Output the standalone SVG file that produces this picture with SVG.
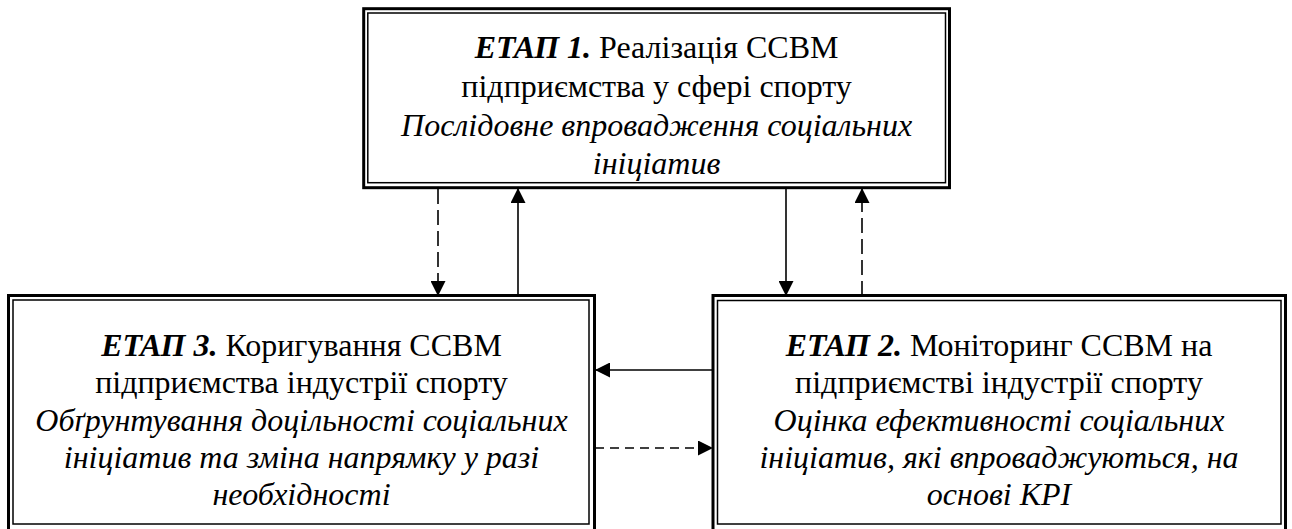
<svg xmlns="http://www.w3.org/2000/svg" width="1292" height="529" viewBox="0 0 1292 529">
  <defs>
    <marker id="arrow" viewBox="0 0 15 15" markerWidth="15" markerHeight="15" refX="15" refY="7.5" orient="auto" markerUnits="userSpaceOnUse">
      <path d="M0,0 L15,7.5 L0,15 z" fill="#000"/>
    </marker>
    <style>
      .outer { fill: none; stroke: #000; stroke-width: 3; }
      .inner { fill: none; stroke: #000; stroke-width: 1.5; }
      .txt { font-family: 'Liberation Serif', 'DejaVu Serif', serif; font-size: 32px; fill: #000; text-anchor: middle; }
      .it { font-style: italic; }
      .bi { font-style: italic; font-weight: bold; }
      .link { fill: none; stroke: #000; stroke-width: 1.6; marker-end: url(#arrow); }
      .dv { stroke-dasharray: 15 6; }
      .dh { stroke-dasharray: 9 6; }
    </style>
  </defs>
  <rect width="1292" height="529" fill="#fff"/>

  <!-- Stage 1: implementation -->
  <g id="stage1">
    <rect class="outer" x="363.7" y="8.7" width="585.8" height="179"/>
    <rect class="inner" x="367.8" y="13" width="577.7" height="169.7"/>
    <text class="txt" x="656.6" y="57.5"><tspan class="bi">ЕТАП 1.</tspan> Реалізація ССВМ</text>
    <text class="txt" x="656.6" y="96.5">підприємства у сфері спорту</text>
    <text class="txt it" x="656.6" y="135.5">Послідовне впровадження соціальних</text>
    <text class="txt it" x="656.6" y="174">ініціатив</text>
  </g>

  <!-- Stage 3: correction -->
  <g id="stage3">
    <rect class="outer" x="8.5" y="295.5" width="586" height="235"/>
    <rect class="inner" x="13" y="300" width="576" height="224"/>
    <text class="txt" x="301.5" y="355.5"><tspan class="bi">ЕТАП 3.</tspan> Коригування ССВМ</text>
    <text class="txt" x="301.5" y="393">підприємства індустрії спорту</text>
    <text class="txt it" x="301.5" y="430.5">Обґрунтування доцільності соціальних</text>
    <text class="txt it" x="301.5" y="468">ініціатив та зміна напрямку у разі</text>
    <text class="txt it" x="301.5" y="505">необхідності</text>
  </g>

  <!-- Stage 2: monitoring -->
  <g id="stage2">
    <rect class="outer" x="713" y="295.5" width="572.5" height="235"/>
    <rect class="inner" x="717.5" y="300.5" width="563.5" height="223.5"/>
    <text class="txt" x="999" y="355.5"><tspan class="bi">ЕТАП 2.</tspan> Моніторинг ССВМ на</text>
    <text class="txt" x="999" y="393">підприємстві індустрії спорту</text>
    <text class="txt it" x="999" y="430.5">Оцінка ефективності соціальних</text>
    <text class="txt it" x="999" y="468">ініціатив, які впроваджуються, на</text>
    <text class="txt it" x="999" y="505">основі КРІ</text>
  </g>

  <!-- Connectors -->
  <g id="connectors">
    <line class="link dv" x1="438" y1="189" x2="438" y2="296"/>
    <line class="link" x1="518" y1="296" x2="518" y2="188"/>
    <line class="link" x1="786" y1="189" x2="786" y2="296"/>
    <line class="link dv" x1="862" y1="296" x2="862" y2="188"/>
    <line class="link" x1="713" y1="370" x2="595" y2="370"/>
    <line class="link dh" x1="595" y1="448" x2="713" y2="448"/>
  </g>
</svg>
